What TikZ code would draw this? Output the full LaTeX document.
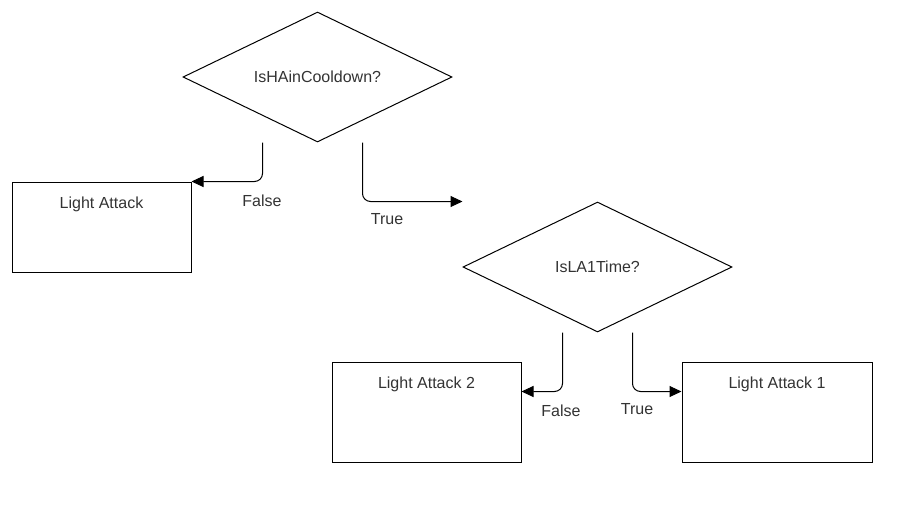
\documentclass[tikz,border=0pt]{standalone}
\usepackage{fontspec}
\setmainfont{Liberation Sans}
\usepackage{tikz}
\usetikzlibrary{arrows.meta,positioning,calc,shapes.geometric}
\usepackage{xcolor}
\definecolor{ink}{HTML}{333333}
\definecolor{edge}{HTML}{000000}

\tikzset{
  txt/.style={text=ink, font=\fontsize{16}{19}\selectfont, inner sep=0pt},
  decision/.style={diamond, draw=edge, line width=1pt, aspect=2, inner sep=0pt,
    minimum width=269pt, minimum height=130pt, txt},
  actbox/.style={draw=edge, line width=1pt, minimum width=179pt, minimum height=90pt},
  flow/.style={draw=edge, line width=1pt, rounded corners=8pt, -{Triangle[length=12pt,width=11pt]}}
}

\begin{document}
\begin{tikzpicture}[x=1pt, y=-1pt]
\useasboundingbox (0,0) rectangle (922,512);
% decisions
\node[decision] (hacd) at (317.5,77) {IsHAinCooldown?};
\node[decision] (la1t) at (597.5,267) {IsLA1Time?};
% attacks
\node[actbox, label={[txt,anchor=center,yshift=-23pt]north:Light Attack}] (la) at (101.5,227) {};
\node[actbox, minimum width=189pt, minimum height=100pt, label={[txt,anchor=center,yshift=-23pt]north:Light Attack 2}] (la2) at (426.5,412) {};
\node[actbox, minimum width=190pt, minimum height=100pt, label={[txt,anchor=center,yshift=-23pt]north:Light Attack 1}] (la1) at (777,412) {};
% connectors
\draw[flow] ($(hacd.south)+(-55,0)$) |- (la.north east);
\draw[flow] ($(hacd.south)+(45,0)$) |- (la1t.north -| la1t.west);
\draw[flow] ($(la1t.south)+(-35,0)$) |- ($(la2.north east)+(0,30)$);
\draw[flow] ($(la1t.south)+(35,0)$) |- ($(la1.north west)+(0,30)$);
% labels
\node[txt] (hfalse) at (262,201) {False};
\node[txt] (htrue) at (387,219) {True};
\node[txt] (lfalse) at (561,411) {False};
\node[txt] (ltrue) at (637,409) {True};
\end{tikzpicture}
\end{document}
